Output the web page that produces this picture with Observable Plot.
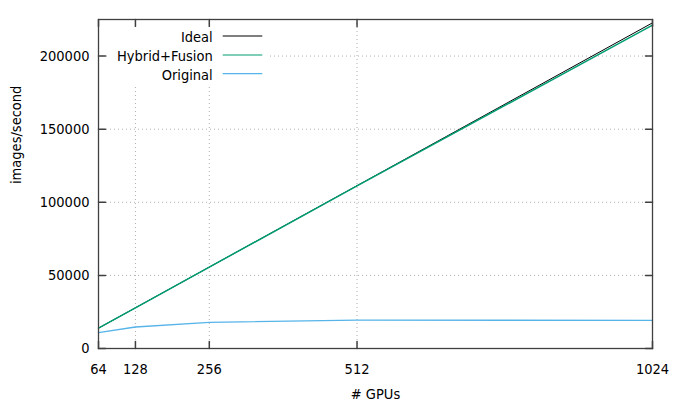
<!DOCTYPE html>
<html><head><meta charset="utf-8">
<script src="https://cdn.jsdelivr.net/npm/d3@7"></script>
<script src="https://cdn.jsdelivr.net/npm/@observablehq/plot@0.6"></script>
<style>
body{margin:0;background:#fff;}
#wrap{position:relative;width:676px;height:407px;}
#legend{position:absolute;left:107px;top:27px;width:162px;height:58px;background:#fff;}
</style></head><body><div id="wrap"><div id="legend"></div></div>
<script>
const gpus = [64, 128, 256, 512, 1024];
const ideal = [13920, 27840, 55680, 111360, 222720];
const hybrid = [13920, 27840, 55680, 111200, 221100];
const original = [10800, 14700, 17900, 19350, 19300];
const xTicks = [64, 128, 256, 512, 1024];
const yTicks = [0, 50000, 100000, 150000, 200000];
const seriesNames = ["Ideal", "Hybrid+Fusion", "Original"];
const seriesColors = ["#000000", "#009e73", "#56b4e9"];
const seriesValues = [ideal, hybrid, original];
const seriesWidths = [1.0, 1.5, 1.3];

const font = '"DejaVu Sans Condensed","Liberation Sans",sans-serif';
const fontSize = 14.5;
const tick = {draw(ctx, l) { ctx.moveTo(0, 0); ctx.lineTo(0, -l); }};
const border = "#404040";
const gridX = xTicks.slice(1, -1), gridY = yTicks.slice(1);

const lineMarks = seriesValues.map((vals, i) =>
  Plot.line(gpus, {x: d => d, y: (d, j) => vals[j], stroke: seriesColors[i], strokeWidth: seriesWidths[i]}));

const chart = Plot.plot({
  width: 676, height: 407, marginLeft: 98, marginRight: 24, marginTop: 19, marginBottom: 59,
  style: {fontFamily: font, fontSize: fontSize + "px", color: "#000", background: "#fff"},
  x: {type: "linear", domain: [64, 1024]},
  y: {domain: [0, 225000]},
  marks: [
    Plot.ruleX(gridX, {x: d => d, stroke: "#b0b0b0", strokeDasharray: "1,3"}),
    Plot.ruleY(gridY, {y: d => d, stroke: "#b0b0b0", strokeDasharray: "1,3"}),
    ...lineMarks,
    Plot.frame({stroke: border, strokeWidth: 1.3}),
    Plot.vector(xTicks, {x: d => d, frameAnchor: "bottom", anchor: "start", length: 7, rotate: 0, shape: tick, stroke: border}),
    Plot.vector(xTicks, {x: d => d, frameAnchor: "top", anchor: "start", length: 7, rotate: 180, shape: tick, stroke: border}),
    Plot.vector(yTicks, {y: d => d, frameAnchor: "left", anchor: "start", length: 7, rotate: 90, shape: tick, stroke: border}),
    Plot.vector(yTicks, {y: d => d, frameAnchor: "right", anchor: "start", length: 7, rotate: -90, shape: tick, stroke: border}),
    Plot.axisX(xTicks, {tickSize: 0, tickPadding: 15, tickFormat: d => String(d), label: null}),
    Plot.axisY(yTicks, {tickSize: 0, tickPadding: 9, tickFormat: d => String(d), label: null}),
    Plot.text(["# GPUs"], {text: d => d, frameAnchor: "bottom", dy: 50}),
    Plot.text(["images/second"], {text: d => d, frameAnchor: "left", dx: -82.6, rotate: -90})
  ]
});
const wrap = document.getElementById("wrap");
wrap.insertBefore(chart, wrap.firstChild);

// legend (gnuplot-style key, opaque box)
const lg = d3.select("#legend").append("svg").attr("width", 162).attr("height", 58)
  .style("font-family", font).style("font-size", fontSize + "px");
const rowY = [9, 28, 46.7];
seriesNames.forEach((name, i) => {
  lg.append("text").attr("x", 105.7).attr("y", rowY[i] + 6).attr("text-anchor", "end").attr("fill", "#000").text(name);
  lg.append("line").attr("x1", 115.7).attr("x2", 155.3).attr("y1", rowY[i]).attr("y2", rowY[i])
    .attr("stroke", seriesColors[i]).attr("stroke-width", 1.2);
});
</script></body></html>
